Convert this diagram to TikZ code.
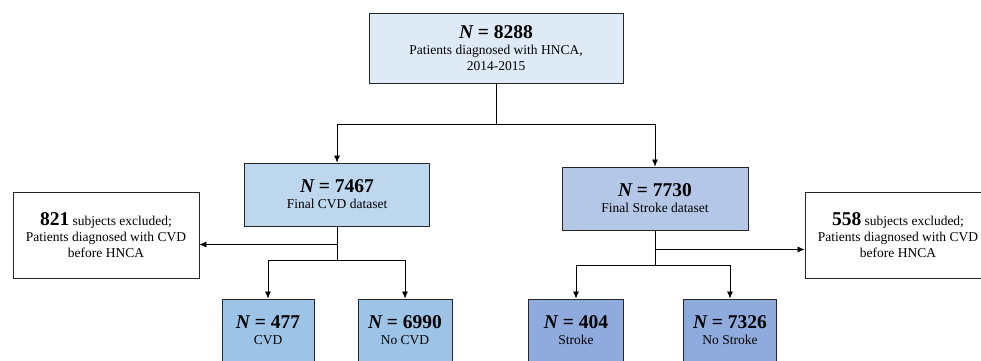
\documentclass[tikz,border=0pt]{standalone}
\usepackage{fontspec}
\setmainfont{Liberation Serif}
\usetikzlibrary{arrows.meta}

\definecolor{topblue}{HTML}{DEEBF7}
\definecolor{cvdblue}{HTML}{BDD7EE}
\definecolor{strblue}{HTML}{B4C7E7}
\definecolor{cvdleaf}{HTML}{9DC3E6}
\definecolor{strleaf}{HTML}{8FAADC}

\newcommand{\bigN}[1]{{\fontsize{19.5}{21}\selectfont\bfseries\itshape N\upshape\ = #1}}
\newcommand{\bignum}[1]{{\fontsize{19.5}{21}\selectfont\bfseries #1}}

\tikzset{
  box/.style={draw=black!85, line width=0.9pt, align=center, inner sep=2pt,
    font=\fontsize{13.5}{16}\selectfont},
  arr/.style={-{Latex[length=7pt,width=6pt]}, line width=0.7pt},
  ln/.style={line width=0.7pt}
}

\begin{document}
\begin{tikzpicture}[x=1pt,y=-1pt]
\useasboundingbox (0,0) rectangle (981,360);
\clip (0,0) rectangle (981,360);

\node[box, fill=topblue, minimum width=254pt, minimum height=70pt] (top) at (496,48)
  {\bigN{8288}\\Patients diagnosed with HNCA,\\2014-2015};

\node[box, fill=cvdblue, minimum width=185pt, minimum height=63pt] (cvd) at (337,194.5)
  {\bigN{7467}\\Final CVD dataset};
\node[box, fill=strblue, minimum width=186pt, minimum height=63pt] (stroke) at (655,198.5)
  {\bigN{7730}\\Final Stroke dataset};

\node[box, fill=white, minimum width=186pt, minimum height=86pt] (exclL) at (106,235)
  {\bignum{821} subjects excluded;\\Patients diagnosed with CVD\\before HNCA};
\node[box, fill=white, minimum width=186pt, minimum height=86pt] (exclR) at (898,235)
  {\bignum{558} subjects excluded;\\Patients diagnosed with CVD\\before HNCA};

\node[box, fill=cvdleaf, minimum width=92pt, minimum height=62pt] (cvdY) at (268,330)
  {\bigN{477}\\CVD};
\node[box, fill=cvdleaf, minimum width=94pt, minimum height=62pt] (cvdN) at (405,330)
  {\bigN{6990}\\No CVD};
\node[box, fill=strleaf, minimum width=95pt, minimum height=62pt] (strY) at (576,330)
  {\bigN{404}\\Stroke};
\node[box, fill=strleaf, minimum width=93pt, minimum height=62pt] (strN) at (730,330)
  {\bigN{7326}\\No Stroke};

\draw[ln] (top.south) -- ++(0,41) coordinate (j0);
\draw[arr] (j0) -| (cvd.north);
\draw[arr] (j0) -| (stroke.north);

\draw[ln] (cvd.south) -- ++(0,34) coordinate (j1);
\path (cvd.south) ++(0,18) coordinate (e1);
\draw[arr] (e1) -- (e1 -| exclL.east);
\draw[arr] (j1) -| (cvdY.north);
\draw[arr] (j1) -| (cvdN.north);

\draw[ln] (stroke.south) -- ++(0,35) coordinate (j2);
\path (stroke.south) ++(0,19) coordinate (e2);
\draw[arr] (e2) -- (e2 -| exclR.west);
\draw[arr] (j2) -| (strY.north);
\draw[arr] (j2) -| (strN.north);
\end{tikzpicture}
\end{document}
